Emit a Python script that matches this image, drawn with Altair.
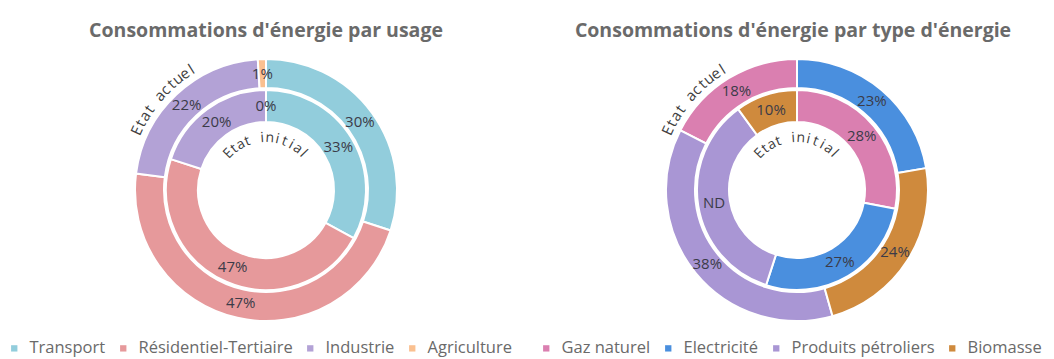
import altair as alt
import pandas as pd

# ---------------- data ----------------
usage_title = "Consommations d'énergie par usage"
usage_cats = ["Transport", "Résidentiel-Tertiaire", "Industrie", "Agriculture"]
usage_colors = ["#92CDDC", "#E6999B", "#B3A2D6", "#FAC090"]
usage_actuel = [30, 47, 22, 1]
usage_actuel_labels = ["30%", "47%", "22%", "1%"]
usage_actuel_order = [0, 1, 2, 3]
usage_initial = [33, 47, 20, 0]
usage_initial_labels = ["33%", "47%", "20%", "0%"]
usage_initial_order = [0, 1, 2, 3]

energy_title = "Consommations d'énergie par type d'énergie"
energy_cats = ["Gaz naturel", "Electricité", "Produits pétroliers", "Biomasse"]
energy_colors = ["#DA7FB0", "#4A8FDE", "#A996D4", "#CF8A3D"]
energy_actuel = [18, 23, 38, 24]
energy_actuel_labels = ["18%", "23%", "38%", "24%"]
energy_actuel_order = [3, 0, 2, 1]
energy_initial = [28, 27, 35, 10]
energy_initial_labels = ["28%", "27%", "ND", "10%"]
energy_initial_order = [0, 1, 2, 3]

ring_names = ["Etat actuel", "Etat initial"]

FONT = "Open Sans"
TXT = "#3B3B48"
GREY = "#6A6A6A"
TOP = 20
CY = 165 - TOP  # ring centre inside plot area


def ring(cats, colors, vals, labels, order, r_in, r_out, r_lab, cx, show_legend):
    df = pd.DataFrame({"cat": cats, "v": vals, "lab": labels, "rank": order})
    legend = alt.Legend(
        orient="none", legendX=6, legendY=CY + 150, direction="horizontal",
        title=None, symbolType="square", symbolSize=40, symbolStrokeWidth=0,
        labelFont=FONT, labelFontSize=16.5, labelColor=GREY, columnPadding=9,
        labelOffset=7,
    ) if show_legend else None
    base = alt.Chart(df).encode(
        theta=alt.Theta("v:Q", stack=True),
        order=alt.Order("rank:Q"),
        x=alt.value(cx), y=alt.value(CY),
    )
    arcs = base.mark_arc(radius=r_out, radius2=r_in, stroke="white", strokeWidth=2).encode(
        color=alt.Color("cat:N", scale=alt.Scale(domain=cats, range=colors),
                        sort=cats, legend=legend)
    )
    text = base.mark_text(radius=r_lab, font=FONT, fontSize=15, color=TXT).encode(text="lab:N")
    return alt.layer(arcs, text)


def curved(label, r, deg0, deg1, cx, size):
    n = len(label)
    df = pd.DataFrame({"ch": list(label), "pos": [i + 0.5 for i in range(n)]})
    rad = 3.141592653589793 / 180
    return alt.Chart(df).mark_text(radius=r, font=FONT, fontSize=size, color="#404040",
                                   baseline="middle", align="center").encode(
        theta=alt.Theta("pos:Q", scale=alt.Scale(domain=[0, n], range=[deg0 * rad, deg1 * rad])),
        angle=alt.Angle("pos:Q", scale=alt.Scale(domain=[0, n], range=[deg0, deg1])),
        text="ch:N",
        x=alt.value(cx), y=alt.value(CY),
    )


def panel(title, cats, colors, act, act_l, act_o, ini, ini_l, ini_o, width, cx):
    layers = [
        ring(cats, colors, act, act_l, act_o, 102, 131, 116, cx, True),
        ring(cats, colors, ini, ini_l, ini_o, 68, 100, 84, cx, False),
        curved(ring_names[0], 142, 293, 330, cx, 15),
        curved(ring_names[1], 52, 310, 410, cx, 14),
    ]
    return alt.layer(*layers).resolve_scale(theta="independent", angle="independent").properties(
        width=width, height=312,
        title=alt.TitleParams(title, font=FONT, fontSize=19.5, fontWeight="bold",
                              color=GREY, anchor="middle", offset=4),
    )


left = panel(usage_title, usage_cats, usage_colors, usage_actuel, usage_actuel_labels,
             usage_actuel_order, usage_initial, usage_initial_labels, usage_initial_order,
             532, 266)
right = panel(energy_title, energy_cats, energy_colors, energy_actuel, energy_actuel_labels,
              energy_actuel_order, energy_initial, energy_initial_labels, energy_initial_order,
              522, 265)

chart = alt.hconcat(left, right, spacing=0).resolve_scale(color="independent").properties(
    padding={"top": TOP, "left": 0, "right": 0, "bottom": 0}
).configure_view(stroke=None)

chart.save("out.html", embed_options={"renderer": "svg", "actions": False})
